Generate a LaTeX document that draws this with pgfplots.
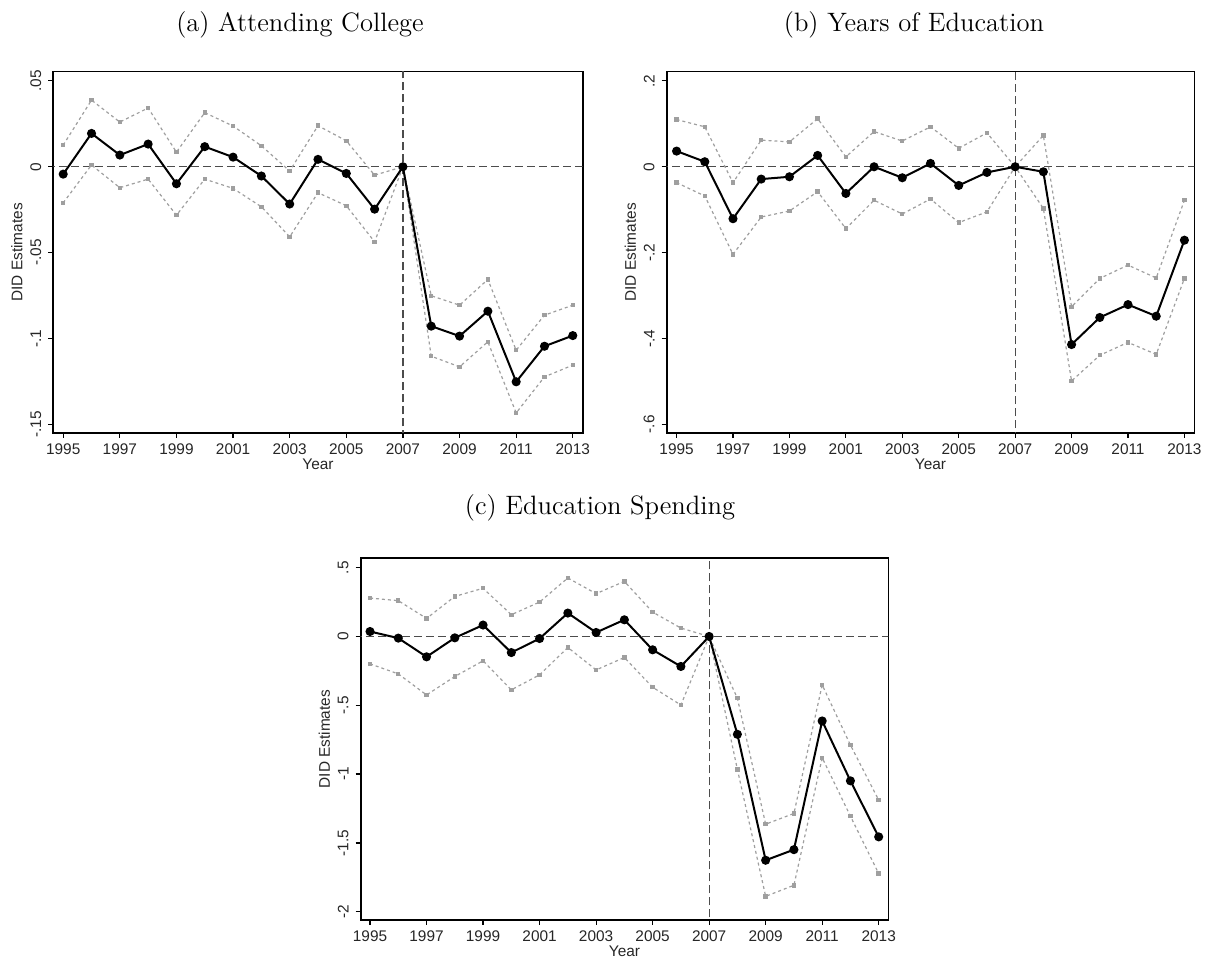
\documentclass[border=0pt]{standalone}
\usepackage{fontspec}
\usepackage{pgfplots}
\pgfplotsset{compat=1.18}
\newfontfamily\arial{Liberation Sans}

\pgfplotsset{
  did/.style={
    scale only axis, width=263.8pt, height=180.7pt, anchor=south west,
    axis line style={black, line width=0.8pt},
    tick align=outside, tick pos=left, major tick length=2.5pt,
    tick style={black, line width=0.6pt},
    xmin=1994.65, xmax=2013.35,
    xtick={1995,1997,...,2013},
    xticklabels={1995,1997,1999,2001,2003,2005,2007,2009,2011,2013},
    ticklabel style={font=\arial\fontsize{7.7}{8}\selectfont, text=black!85},
    xticklabel style={yshift=0.5pt},
    yticklabel style={rotate=90, anchor=south},
    label style={font=\arial\fontsize{7.7}{8}\selectfont, text=black!85},
    xlabel={Year}, ylabel={DID Estimates},
    xlabel style={yshift=5pt},
    ylabel style={yshift=-3pt},
  },
  ci/.style={gray!75, line width=0.6pt, dash pattern=on 1.5pt off 1.5pt,
    mark=square*, mark size=0.8pt, mark options={solid, fill=gray!75, draw=gray!75}},
  est/.style={black, line width=1pt, mark=*, mark size=1.75pt, mark options={solid, fill=black}},
  refl/.style={black!70, line width=0.6pt, dash pattern=on 4pt off 2pt, forget plot},
}

\begin{document}
\begin{tikzpicture}
\useasboundingbox (0,0) rectangle (603pt,478.5pt);

% titles
\node[anchor=base, font=\fontsize{13.3}{15}\selectfont] at (150pt,462.5pt) {(a) Attending College};
\node[anchor=base, font=\fontsize{13.3}{15}\selectfont] at (457pt,462.5pt) {(b) Years of Education};
\node[anchor=base, font=\fontsize{13.3}{15}\selectfont] at (300pt,221pt) {(c) Education Spending};

% (a) attending college
\begin{axis}[did, at={(26.65pt,262pt)}, width=264.7pt,
  ymin=-0.155, ymax=0.0554,
  ytick={-0.15,-0.1,-0.05,0,0.05}, yticklabels={-.15,-.1,-.05,0,.05}]
\addplot[refl] coordinates {(1994,0)(2014,0)};
\addplot[refl] coordinates {(2007,-0.2)(2007,0.1)};
\addplot[ci] coordinates {
 (1995,0.0126)(1996,0.0388)(1997,0.0260)(1998,0.0342)(1999,0.0085)(2000,0.0315)
 (2001,0.0237)(2002,0.0122)(2003,-0.0025)(2004,0.0239)(2005,0.0151)(2006,-0.0049)
 (2007,0)(2008,-0.0751)(2009,-0.0806)(2010,-0.0656)(2011,-0.1068)(2012,-0.0864)(2013,-0.0806)};
\addplot[ci] coordinates {
 (1995,-0.0210)(1996,0.0010)(1997,-0.0122)(1998,-0.0072)(1999,-0.0282)(2000,-0.0072)
 (2001,-0.0126)(2002,-0.0233)(2003,-0.0408)(2004,-0.0151)(2005,-0.0227)(2006,-0.0437)
 (2007,0)(2008,-0.1103)(2009,-0.1165)(2010,-0.1019)(2011,-0.1433)(2012,-0.1223)(2013,-0.1155)};
\addplot[est] coordinates {
 (1995,-0.0043)(1996,0.0194)(1997,0.0068)(1998,0.0132)(1999,-0.0099)(2000,0.0117)
 (2001,0.0056)(2002,-0.0054)(2003,-0.0217)(2004,0.0043)(2005,-0.0039)(2006,-0.0247)
 (2007,0)(2008,-0.0928)(2009,-0.0986)(2010,-0.0841)(2011,-0.1252)(2012,-0.1045)(2013,-0.0983)};
\end{axis}

% (b) years of education
\begin{axis}[did, at={(333.35pt,262pt)}, width=263.8pt,
  ymin=-0.620, ymax=0.2217,
  ytick={-0.6,-0.4,-0.2,0,0.2}, yticklabels={-.6,-.4,-.2,0,.2}]
\addplot[refl] coordinates {(1994,0)(2014,0)};
\addplot[refl] coordinates {(2007,-1)(2007,1)};
\addplot[ci] coordinates {
 (1995,0.110)(1996,0.093)(1997,-0.037)(1998,0.062)(1999,0.058)(2000,0.112)
 (2001,0.023)(2002,0.082)(2003,0.060)(2004,0.093)(2005,0.043)(2006,0.079)
 (2007,0)(2008,0.073)(2009,-0.326)(2010,-0.260)(2011,-0.229)(2012,-0.259)(2013,-0.078)};
\addplot[ci] coordinates {
 (1995,-0.037)(1996,-0.068)(1997,-0.204)(1998,-0.117)(1999,-0.103)(2000,-0.058)
 (2001,-0.144)(2002,-0.078)(2003,-0.110)(2004,-0.075)(2005,-0.130)(2006,-0.105)
 (2007,0)(2008,-0.097)(2009,-0.499)(2010,-0.439)(2011,-0.409)(2012,-0.437)(2013,-0.260)};
\addplot[est] coordinates {
 (1995,0.0365)(1996,0.0117)(1997,-0.121)(1998,-0.0287)(1999,-0.0233)(2000,0.0264)
 (2001,-0.0621)(2002,0)(2003,-0.0256)(2004,0.0078)(2005,-0.0435)(2006,-0.0132)
 (2007,0)(2008,-0.0117)(2009,-0.414)(2010,-0.351)(2011,-0.321)(2012,-0.348)(2013,-0.171)};
\end{axis}

% (c) education spending
\begin{axis}[did, at={(180.35pt,18.5pt)}, width=263.8pt, height=180.85pt,
  xmin=1994.67, xmax=2013.34,
  ymin=-2.06, ymax=0.568,
  ytick={-2,-1.5,-1,-0.5,0,0.5}, yticklabels={-2,-1.5,-1,-.5,0,.5}]
\addplot[refl] coordinates {(1994,0)(2014,0)};
\addplot[refl] coordinates {(2007,-3)(2007,1)};
\addplot[ci] coordinates {
 (1995,0.279)(1996,0.260)(1997,0.131)(1998,0.291)(1999,0.350)(2000,0.158)
 (2001,0.250)(2002,0.425)(2003,0.311)(2004,0.400)(2005,0.177)(2006,0.061)
 (2007,0)(2008,-0.449)(2009,-1.364)(2010,-1.286)(2011,-0.352)(2012,-0.789)(2013,-1.189)};
\addplot[ci] coordinates {
 (1995,-0.199)(1996,-0.272)(1997,-0.425)(1998,-0.291)(1999,-0.177)(2000,-0.388)
 (2001,-0.279)(2002,-0.080)(2003,-0.243)(2004,-0.153)(2005,-0.369)(2006,-0.498)
 (2007,0)(2008,-0.966)(2009,-1.888)(2010,-1.808)(2011,-0.881)(2012,-1.306)(2013,-1.723)};
\addplot[est] coordinates {
 (1995,0.036)(1996,-0.012)(1997,-0.148)(1998,-0.010)(1999,0.083)(2000,-0.117)
 (2001,-0.015)(2002,0.170)(2003,0.029)(2004,0.121)(2005,-0.097)(2006,-0.218)
 (2007,0)(2008,-0.711)(2009,-1.626)(2010,-1.549)(2011,-0.614)(2012,-1.049)(2013,-1.456)};
\end{axis}
\end{tikzpicture}
\end{document}
